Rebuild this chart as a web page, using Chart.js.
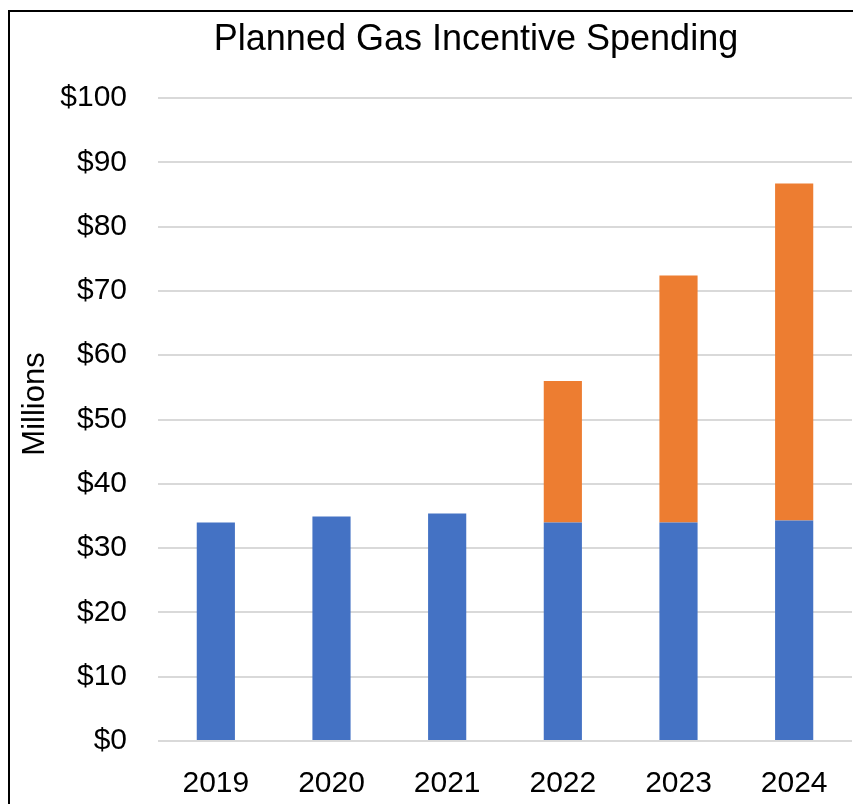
<!DOCTYPE html>
<html>
<head>
<meta charset="utf-8">
<script src="https://cdn.jsdelivr.net/npm/chart.js@4/dist/chart.umd.min.js"></script>
<style>
  html, body { margin: 0; padding: 0; background: #fff; }
  #wrap { position: relative; width: 853px; height: 804px; overflow: hidden; }
  #frame { position: absolute; left: 8px; top: 10px; width: 900px; height: 900px;
           border-left: 2px solid #000; border-top: 2px solid #000; pointer-events: none; }
  canvas { position: absolute; left: 0; top: 0; }
</style>
</head>
<body>
<div id="wrap">
  <canvas id="myChart" width="853" height="804"></canvas>
  <div id="frame"></div>
</div>
<script>
// datos (millones de dolares)
var years   = ['2019', '2020', '2021', '2022', '2023', '2024'];
var base    = [34.0, 34.9, 35.4, 34.0, 34.0, 34.3];
var added   = [0, 0, 0, 22.0, 38.4, 52.4];
var yTicks  = [0, 10, 20, 30, 40, 50, 60, 70, 80, 90, 100];
var titleText = 'Planned Gas Incentive Spending';
var yTitleText = 'Millions';

var FONT = "'Liberation Sans', Arial, sans-serif";

// titulos dibujados a mano para que queden donde estan en la imagen
var textosPlugin = {
    id: 'textos',
    afterDraw: function(chart)
    {
        var c = chart.ctx;
        c.save();
        c.fillStyle = '#000';
        c.textAlign = 'center';
        c.textBaseline = 'alphabetic';
        c.font = '36px ' + FONT;
        c.fillText(titleText, 476, 50);

        c.translate(35, 404);
        c.rotate(-Math.PI / 2);
        c.textBaseline = 'middle';
        c.font = '31px ' + FONT;
        c.fillText(yTitleText, 0, 0);
        c.restore();
    }
};

var ctx = document.getElementById('myChart').getContext('2d');
var myChart = new Chart(ctx,
{
    type: 'bar',
    data:
    {
        labels: years,
        datasets:
        [
            {
                data: base,
                label: 'Base',
                backgroundColor: '#4472C4',
                barPercentage: 0.33,
                categoryPercentage: 1
            },
            {
                data: added,
                label: 'Added',
                backgroundColor: '#ED7D31',
                barPercentage: 0.33,
                categoryPercentage: 1
            }
        ]
    },
    plugins: [textosPlugin],
    options:
    {
        responsive: false,
        animation: false,
        layout: { padding: { left: 0, right: 1, top: 98, bottom: 0 } },
        plugins:
        {
            legend: { display: false },
            tooltip: { enabled: false },
            title: { display: false }
        },
        scales:
        {
            x:
            {
                stacked: true,
                grid: { display: false },
                border: { display: false },
                ticks: { color: '#000', padding: 17, font: { family: FONT, size: 30 } },
                afterFit: function(scale) { scale.height = 63; }
            },
            y:
            {
                stacked: true,
                min: 0,
                max: 100,
                afterBuildTicks: function(scale) {
                    scale.ticks = yTicks.map(function(v) { return { value: v }; });
                },
                grid: { color: '#d9d9d9', lineWidth: 2, drawTicks: false },
                border: { display: false },
                ticks:
                {
                    color: '#000',
                    padding: 31,
                    font: { family: FONT, size: 30 },
                    callback: function(v) { return '$' + v; }
                },
                afterFit: function(scale) { scale.width = 158; }
            }
        }
    }
});
</script>
</body>
</html>
